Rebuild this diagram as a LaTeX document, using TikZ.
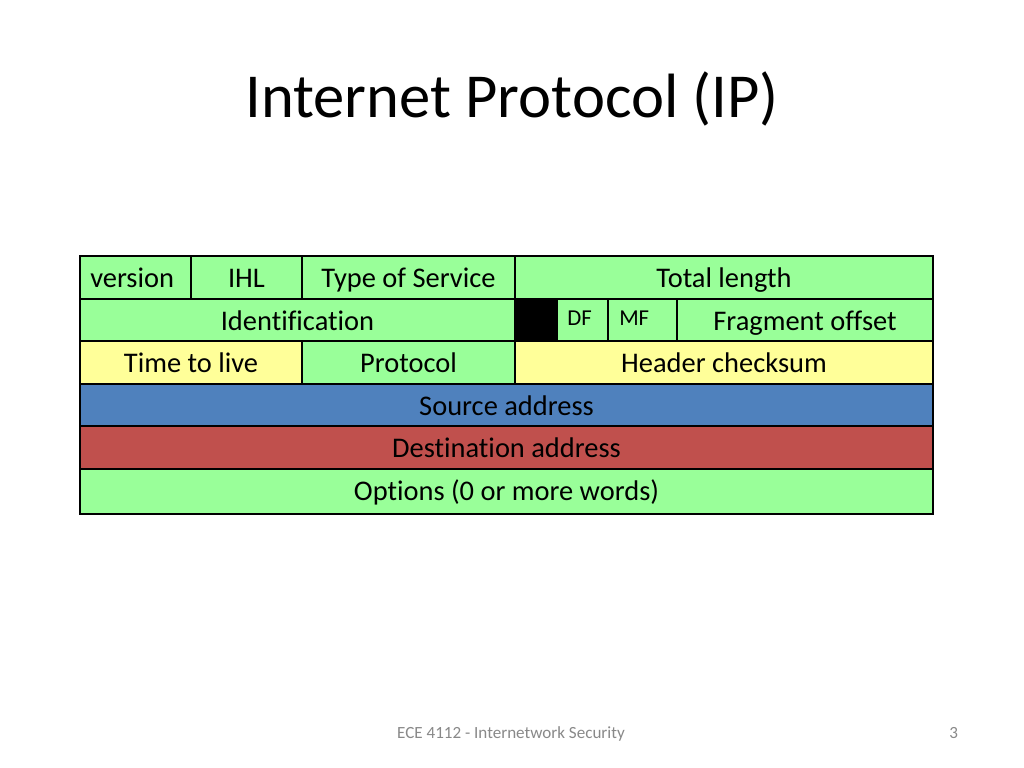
\documentclass[tikz,border=0pt]{standalone}
\usepackage{fontspec}
\setmainfont[Ligatures=NoCommon]{Carlito}
\definecolor{ipgreen}{RGB}{153,255,153}
\definecolor{ipyellow}{RGB}{255,255,153}
\definecolor{ipblue}{RGB}{79,129,189}
\definecolor{ipred}{RGB}{192,80,77}
\definecolor{footgray}{RGB}{137,137,137}
\def\px{0.703125pt}
\tikzset{
  cell/.style={draw=black, line width=1pt, rectangle, inner sep=0pt, outer sep=0pt,
    font=\fontsize{20}{24}\selectfont, text depth=0pt},
  gcell/.style={cell, fill=ipgreen},
  ycell/.style={cell, fill=ipyellow},
  kcell/.style={cell, fill=black},
  bcell/.style={cell, fill=ipblue},
  rcell/.style={cell, fill=ipred},
  flagtext/.style={font=\fontsize{16}{19}\selectfont, inner sep=0pt, anchor=base west},
  celltext/.style={font=\fontsize{20}{24}\selectfont, inner sep=0pt, anchor=base west},
}
% style, name, x1, y1, x2, y2, text  (text centred, baseline 31px below the top)
\newcommand{\cellat}[7]{%
  \node[#1, minimum width={(#5-#3)*\px}, minimum height={(#6-#4)*\px},
        text height={(63-(#6-#4))*\px}]
    (#2) at ({(#3+#5)/2},{(#4+#6)/2}) {#7};}
\begin{document}
\begin{tikzpicture}[x=0.703125pt, y=-0.703125pt]
\useasboundingbox[fill=white] (0,0) rectangle (1024,768);
\node[font=\fontsize{44}{50}\selectfont, anchor=base] (title) at (512,118) {Internet Protocol (IP)};
% row 1
\cellat{gcell}{version}{80}{256}{191}{299}{}
\node[celltext] (versiont) at (90,288) {version};
\cellat{gcell}{ihl}{191}{256}{302}{299}{IHL}
\cellat{gcell}{tos}{302}{256}{515}{299}{Type of Service}
\cellat{gcell}{len}{515}{256}{933}{299}{Total length}
% row 2
\cellat{gcell}{ident}{80}{299}{515}{341}{Identification}
\cellat{kcell}{rsv}{515}{299}{557}{341}{}
\cellat{gcell}{df}{557}{299}{608}{341}{}
\cellat{gcell}{mf}{608}{299}{677}{341}{}
\node[flagtext] (dft) at (567,325) {DF};
\node[flagtext] (mft) at (619,325) {MF};
\cellat{gcell}{frag}{677}{299}{933}{341}{Fragment offset}
% row 3
\cellat{ycell}{ttl}{80}{341}{302}{384}{Time to live}
\cellat{gcell}{proto}{302}{341}{515}{384}{Protocol}
\cellat{ycell}{csum}{515}{341}{933}{384}{Header checksum}
% rows 4-6
\cellat{bcell}{src}{80}{384}{933}{426}{Source address}
\cellat{rcell}{dst}{80}{426}{933}{469}{Destination address}
\cellat{gcell}{opt}{80}{469}{933}{514}{Options (0 or more words)}
% footer
\node[font=\fontsize{12}{14}\selectfont, text=footgray, anchor=base] (foot) at (511,738) {ECE 4112 - Internetwork Security};
\node[font=\fontsize{12}{14}\selectfont, text=footgray, anchor=base east] (pnum) at (963,738) {3};
\end{tikzpicture}
\end{document}
